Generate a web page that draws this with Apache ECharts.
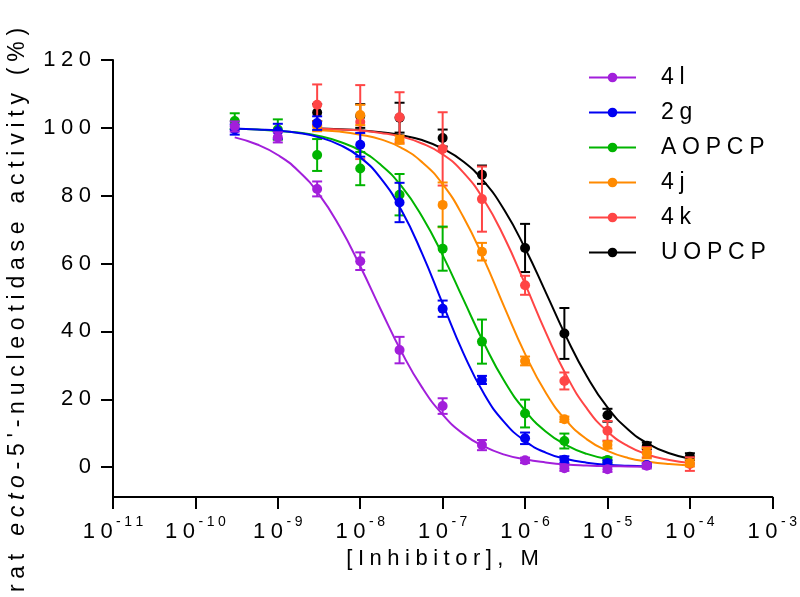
<!DOCTYPE html>
<html><head><meta charset="utf-8">
<script src="https://cdn.jsdelivr.net/npm/echarts@6/dist/echarts.min.js"></script>
<style>html,body{margin:0;padding:0;background:#fff}#c{width:800px;height:597px}</style>
</head><body><div id="c"></div>
<script>
// ---------- data ----------
const seriesNames = ['4l', '2g', 'AOPCP', '4j', '4k', 'UOPCP'];
const colors = ['#A21FDB', '#0000F2', '#00B400', '#FF8A00', '#FF4545', '#000000'];

const xTicks = [1e-11, 1e-10, 1e-9, 1e-8, 1e-7, 1e-6, 1e-5, 1e-4, 1e-3];
const yTicks = [0, 20, 40, 60, 80, 100, 120];

// measured points (concentration, mean, SD)
const dose_4l    = [3e-10, 1e-9, 3e-9, 1e-8, 3e-8, 1e-7, 3e-7, 1e-6, 3e-6, 1e-5, 3e-5];
const mean_4l    = [100.4, 97.2, 82.0, 60.7, 34.5, 18.0, 6.5, 2.0, -0.3, -0.6, 0.4];
const sd_4l      = [1.5, 1.5, 2.2, 2.6, 3.9, 2.3, 1.5, 0.8, 0.8, 0.8, 0.8];

const dose_2g    = [3e-10, 1e-9, 3e-9, 1e-8, 3e-8, 1e-7, 3e-7, 1e-6, 3e-6, 1e-5, 3e-5];
const mean_2g    = [99.5, 99.0, 101.4, 95.0, 78.0, 46.7, 25.7, 8.5, 2.2, 1.2, 0.6];
const sd_2g      = [1.5, 2.2, 2.0, 3.5, 5.8, 2.4, 1.2, 1.7, 1.0, 0.8, 0.5];

const dose_AOPCP = [3e-10, 1e-9, 3e-9, 1e-8, 3e-8, 1e-7, 3e-7, 1e-6, 3e-6, 1e-5];
const mean_AOPCP = [102.0, 99.5, 92.0, 88.0, 80.3, 64.4, 37.0, 15.8, 7.7, 2.1];
const sd_AOPCP   = [2.3, 3.0, 4.7, 4.9, 6.1, 6.5, 6.5, 4.1, 2.2, 0.8];

const dose_4j    = [3e-9, 1e-8, 3e-8, 1e-7, 3e-7, 1e-6, 3e-6, 1e-5, 3e-5, 1e-4];
const mean_4j    = [100.5, 103.8, 96.5, 77.3, 63.5, 31.3, 14.1, 6.5, 4.1, 1.2];
const sd_4j      = [1.5, 3.0, 1.2, 6.6, 2.6, 1.3, 0.8, 1.0, 1.5, 1.0];

const dose_4k    = [3e-9, 1e-8, 3e-8, 1e-7, 3e-7, 1e-6, 3e-6, 1e-5, 3e-5, 1e-4];
const mean_4k    = [106.8, 101.7, 103.1, 93.8, 79.0, 53.6, 25.4, 10.7, 4.4, 0.9];
const sd_4k      = [6.0, 10.9, 7.4, 10.8, 9.6, 2.8, 2.5, 2.9, 1.5, 2.0];

const dose_UOPCP = [3e-9, 1e-8, 3e-8, 1e-7, 3e-7, 1e-6, 3e-6, 1e-5, 3e-5, 1e-4];
const mean_UOPCP = [104.5, 103.5, 103.0, 97.0, 86.2, 64.6, 39.4, 15.3, 6.3, 3.1];
const sd_UOPCP   = [2.5, 3.5, 4.4, 2.5, 2.7, 7.1, 7.5, 1.9, 1.0, 1.0];

// fitted curves (log10 concentration, % activity)
const curveLog_4l    = [-9.523, -9.25, -9, -8.75, -8.5, -8.25, -8, -7.75, -7.5, -7.25, -7, -6.75, -6.5, -6.25, -6, -5.75, -5.5, -5.25, -5, -4.75, -4.523];
const curve_4l       = [97.2, 95.1, 92.0, 87.3, 80.4, 70.9, 59.2, 46.4, 34.0, 23.5, 15.5, 9.8, 6.1, 3.7, 2.3, 1.4, 0.8, 0.5, 0.3, 0.2, 0.1];
const curveLog_2g    = [-9.523, -9.25, -9, -8.75, -8.5, -8.25, -8, -7.75, -7.5, -7.25, -7, -6.75, -6.5, -6.25, -6, -5.75, -5.5, -5.25, -5, -4.75, -4.523];
const curve_2g       = [99.8, 99.5, 99.2, 98.5, 97.2, 95.0, 91.3, 85.1, 75.7, 63.0, 48.2, 33.7, 21.7, 13.2, 7.7, 4.3, 2.4, 1.3, 0.7, 0.4, 0.2];
const curveLog_AOPCP = [-9.523, -9.25, -9, -8.75, -8.5, -8.25, -8, -7.75, -7.5, -7.25, -7, -6.75, -6.5, -6.25, -6, -5.75, -5.5, -5.25, -5];
const curve_AOPCP    = [99.7, 99.5, 99.1, 98.6, 97.6, 95.9, 93.3, 89.1, 82.8, 73.9, 62.5, 49.5, 36.6, 25.3, 16.7, 10.5, 6.5, 3.9, 2.4];
const curveLog_4j    = [-8.523, -8.25, -8, -7.75, -7.5, -7.25, -7, -6.75, -6.5, -6.25, -6, -5.75, -5.5, -5.25, -5, -4.75, -4.5, -4.25, -4];
const curve_4j       = [99.4, 98.9, 98.0, 96.6, 94.1, 89.9, 83.4, 73.8, 61.3, 47.1, 33.4, 22.0, 13.7, 8.2, 4.8, 2.7, 1.6, 0.9, 0.5];
const curveLog_4k    = [-8.523, -8.25, -8, -7.75, -7.5, -7.25, -7, -6.75, -6.5, -6.25, -6, -5.75, -5.5, -5.25, -5, -4.75, -4.5, -4.25, -4];
const curve_4k       = [99.8, 99.5, 99.2, 98.5, 97.4, 95.4, 92.2, 86.9, 78.8, 67.6, 54.0, 39.8, 27.1, 17.3, 10.5, 6.2, 3.6, 2.1, 1.2];
const curveLog_UOPCP = [-8.523, -8.25, -8, -7.75, -7.5, -7.25, -7, -6.75, -6.5, -6.25, -6, -5.75, -5.5, -5.25, -5, -4.75, -4.5, -4.25, -4];
const curve_UOPCP    = [99.8, 99.6, 99.3, 98.7, 97.8, 96.4, 93.9, 90.1, 84.2, 75.7, 64.5, 51.6, 38.4, 26.8, 17.6, 11.1, 6.8, 4.1, 2.5];

// ---------- helpers ----------
const FONT = 'Liberation Sans, Arial, Helvetica, sans-serif';
const GAP = '\u2005';
const sp = s => String(s).split('').join(GAP);

const sets = [
  {name: '4l',    dose: dose_4l,    mean: mean_4l,    sd: sd_4l,    cl: curveLog_4l,    cv: curve_4l},
  {name: '2g',    dose: dose_2g,    mean: mean_2g,    sd: sd_2g,    cl: curveLog_2g,    cv: curve_2g},
  {name: 'AOPCP', dose: dose_AOPCP, mean: mean_AOPCP, sd: sd_AOPCP, cl: curveLog_AOPCP, cv: curve_AOPCP},
  {name: '4j',    dose: dose_4j,    mean: mean_4j,    sd: sd_4j,    cl: curveLog_4j,    cv: curve_4j},
  {name: '4k',    dose: dose_4k,    mean: mean_4k,    sd: sd_4k,    cl: curveLog_4k,    cv: curve_4k},
  {name: 'UOPCP', dose: dose_UOPCP, mean: mean_UOPCP, sd: sd_UOPCP, cl: curveLog_UOPCP, cv: curve_UOPCP}
];

function renderErr(params, api) {
  const x = api.value(0), lo = api.value(1), hi = api.value(2);
  const a = api.coord([x, lo]), b = api.coord([x, hi]);
  const w = 5;
  const style = {stroke: api.visual('color'), lineWidth: 2};
  return {type: 'group', children: [
    {type: 'line', shape: {x1: a[0], y1: a[1], x2: b[0], y2: b[1]}, style: style},
    {type: 'line', shape: {x1: a[0] - w, y1: a[1], x2: a[0] + w, y2: a[1]}, style: style},
    {type: 'line', shape: {x1: b[0] - w, y1: b[1], x2: b[0] + w, y2: b[1]}, style: style}
  ]};
}

const series = [];
// draw UOPCP first, 4l last (4l on top)
for (let j = 0; j < sets.length; j++) {
  const k = sets.length - 1 - j;
  const s = sets[k];
  const c = colors[k];
  series.push({
    name: s.name, type: 'line', z: 2 + j * 3,
    data: s.cl.map((L, i) => [Math.pow(10, L), s.cv[i]]),
    smooth: true, showSymbol: false, symbol: 'circle', symbolSize: 10,
    lineStyle: {color: c, width: 2}, itemStyle: {color: c},
    silent: true
  });
  series.push({
    name: s.name, type: 'custom', z: 3 + j * 3,
    data: s.dose.map((d, i) => [d, s.mean[i] - s.sd[i], s.mean[i] + s.sd[i]]),
    encode: {x: 0, y: [1, 2]},
    renderItem: renderErr, itemStyle: {color: c}, silent: true
  });
  series.push({
    name: s.name, type: 'scatter', z: 4 + j * 3,
    data: s.dose.map((d, i) => [d, s.mean[i]]),
    symbol: 'circle', symbolSize: 10, itemStyle: {color: c, opacity: 1}, silent: true
  });
}

const chart = echarts.init(document.getElementById('c'), null, {renderer: 'canvas'});
chart.setOption({
  animation: false,
  backgroundColor: '#fff',
  grid: {left: 113, right: 27, top: 60, bottom: 100, containLabel: false},
  legend: {
    data: seriesNames, orient: 'vertical', left: 588, top: 66, padding: 0,
    itemWidth: 47, itemHeight: 12, itemGap: 12,
    formatter: n => sp(n),
    textStyle: {fontSize: 23, color: '#000', fontFamily: FONT, lineHeight: 20, padding: [0, 0, 0, 20]}
  },
  xAxis: {
    type: 'log', logBase: 10, min: 1e-11, max: 1e-3,
    axisLine: {show: true, onZero: false, lineStyle: {color: '#000', width: 2}},
    axisTick: {show: true, length: 12, lineStyle: {color: '#000', width: 2}, customValues: xTicks},
    axisLabel: {
      customValues: xTicks, margin: 18, color: '#000',
      formatter: v => '{b|' + sp('10') + '}{s|' + GAP + sp(String(Math.round(Math.log10(v)))) + '}',
      rich: {
        b: {fontSize: 22, fontFamily: FONT, color: '#000', lineHeight: 28, verticalAlign: 'bottom'},
        s: {fontSize: 14, fontFamily: FONT, color: '#000', lineHeight: 28, verticalAlign: 'top'}
      }
    },
    splitLine: {show: false},
    name: sp('[Inhibitor], M'), nameLocation: 'middle', nameGap: 36,
    nameTextStyle: {fontSize: 22, color: '#000', fontFamily: FONT}
  },
  yAxis: {
    type: 'value', min: -8.8, max: 120,
    axisLine: {show: true, onZero: false, lineStyle: {color: '#000', width: 2}},
    axisTick: {show: true, length: 12, lineStyle: {color: '#000', width: 2}, customValues: yTicks},
    axisLabel: {customValues: yTicks, margin: 22, fontSize: 22, color: '#000', fontFamily: FONT,
      formatter: v => sp(String(v))},
    splitLine: {show: false}
  },
  graphic: [{
    type: 'text', x: 18, y: 310, rotation: Math.PI / 2, silent: true,
    style: {
      text: '{n|' + sp('rat ') + GAP + '}{i|' + sp('ecto') + '}{n|' + GAP + sp("-5'-nucleotidase activity (%)") + '}',
      align: 'center', verticalAlign: 'middle',
      rich: {
        n: {fontSize: 23, fontFamily: FONT, fill: '#000'},
        i: {fontSize: 23, fontFamily: FONT, fontStyle: 'italic', fill: '#000'}
      }
    }
  }],
  series: series
});
</script>
</body></html>
